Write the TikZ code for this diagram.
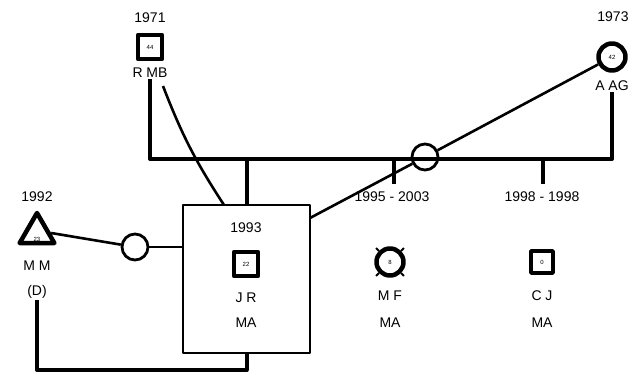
\documentclass[tikz,border=0pt]{standalone}
\usepackage{fontspec}
\setmainfont{Liberation Sans}
\usetikzlibrary{shapes.geometric}

\begin{document}
\begin{tikzpicture}[x=1pt,y=-1pt,line cap=butt,line join=round,
  every node/.style={inner sep=1pt,font=\fontsize{14}{16}\selectfont},
  male/.style={draw,line width=4.5pt,minimum size=24pt,inner sep=0pt,font=\fontsize{6}{6}\selectfont},
  female/.style={draw,circle,line width=4.5pt,minimum size=27pt,inner sep=0pt,font=\fontsize{6}{6}\selectfont},
  union/.style={draw,circle,line width=2.8pt,minimum size=26pt,inner sep=0pt},
  kin/.style={line width=4pt},
  rel/.style={line width=2.6pt}]
  \useasboundingbox (0,0) rectangle (638,375);
  % grandparents
  \node (rmbyr) at (150,18) {1971};
  \node[male] (rmb) at (150,47) {44};
  \node (rmbn) at (150,73) {R MB};
  \node (aagyr) at (613,17) {1973};
  \node[female] (aag) at (612,57) {42};
  \node (aagn) at (612,86) {A AG};
  \coordinate (barL) at (150,159);
  \coordinate (barR) at (612,159);
  \draw[kin] (rmbn.south) -- (barL) -- (barR) -- (aagn.south);
  % children
  \node[draw,line width=2.6pt,minimum width=127pt,minimum height=148pt] (jr) at (246.5,279) {};
  \node (jryr) at (246,228) {1993};
  \node[male] (jrs) at (246,264) {22};
  \node (jrn) at (246,298) {J R};
  \node (jrm) at (246,323) {MA};
  \node (mfyr) at (392,197) {1995 - 2003};
  \node[female] (mf) at (390,262) {8};
  \foreach \a in {45,135,225,315}
    \draw[line width=1.8pt] (mf.\a) -- ++(\a:4pt);
  \node (mfn) at (390,296) {M F};
  \node (mfm) at (390,323) {MA};
  \node (cjyr) at (542,197) {1998 - 1998};
  \node[male,line width=3.5pt,minimum size=22pt] (cj) at (542,262) {0};
  \node (cjn) at (542,296) {C J};
  \node (cjm) at (542,323) {MA};
  \coordinate (d1) at (246.5,159);
  \coordinate (d2) at (394,159);
  \coordinate (d3) at (543,159);
  \draw[kin] (d1) -- (jr.north);
  \draw[kin] (d2) -- (394,184);
  \draw[kin] (d3) -- (543,184);
  % partners
  \node (mmyr) at (37,197) {1992};
  \node[draw,regular polygon,regular polygon sides=3,line width=4.5pt,minimum size=40pt,inner sep=0pt] (mm) at (37,233) {};
  \node[font=\fontsize{6}{6}\selectfont] (mma) at (37,239) {23};
  \node (mmn) at (37,266) {M M};
  \node (mmd) at (37,292) {(D)};
  \node[union] (c1) at (135,247) {};
  \draw[rel] (mm.east) -- (c1);
  \draw[rel] (c1) -- (jr.west |- c1);
  \coordinate (jrne) at (310,218);
  \node[union] (c2) at (425,157) {};
  \draw[rel] (jrne) -- (c2);
  \draw[rel] (c2) -- (aag);
  \coordinate (rmbc) at (163,86);
  \draw[rel] (rmbc) to[bend right=6] (224,205);
  \coordinate (mmlow) at (37,370);
  \draw[kin] (mmd.south) -- (mmlow) -| (jr.south);
\end{tikzpicture}
\end{document}
